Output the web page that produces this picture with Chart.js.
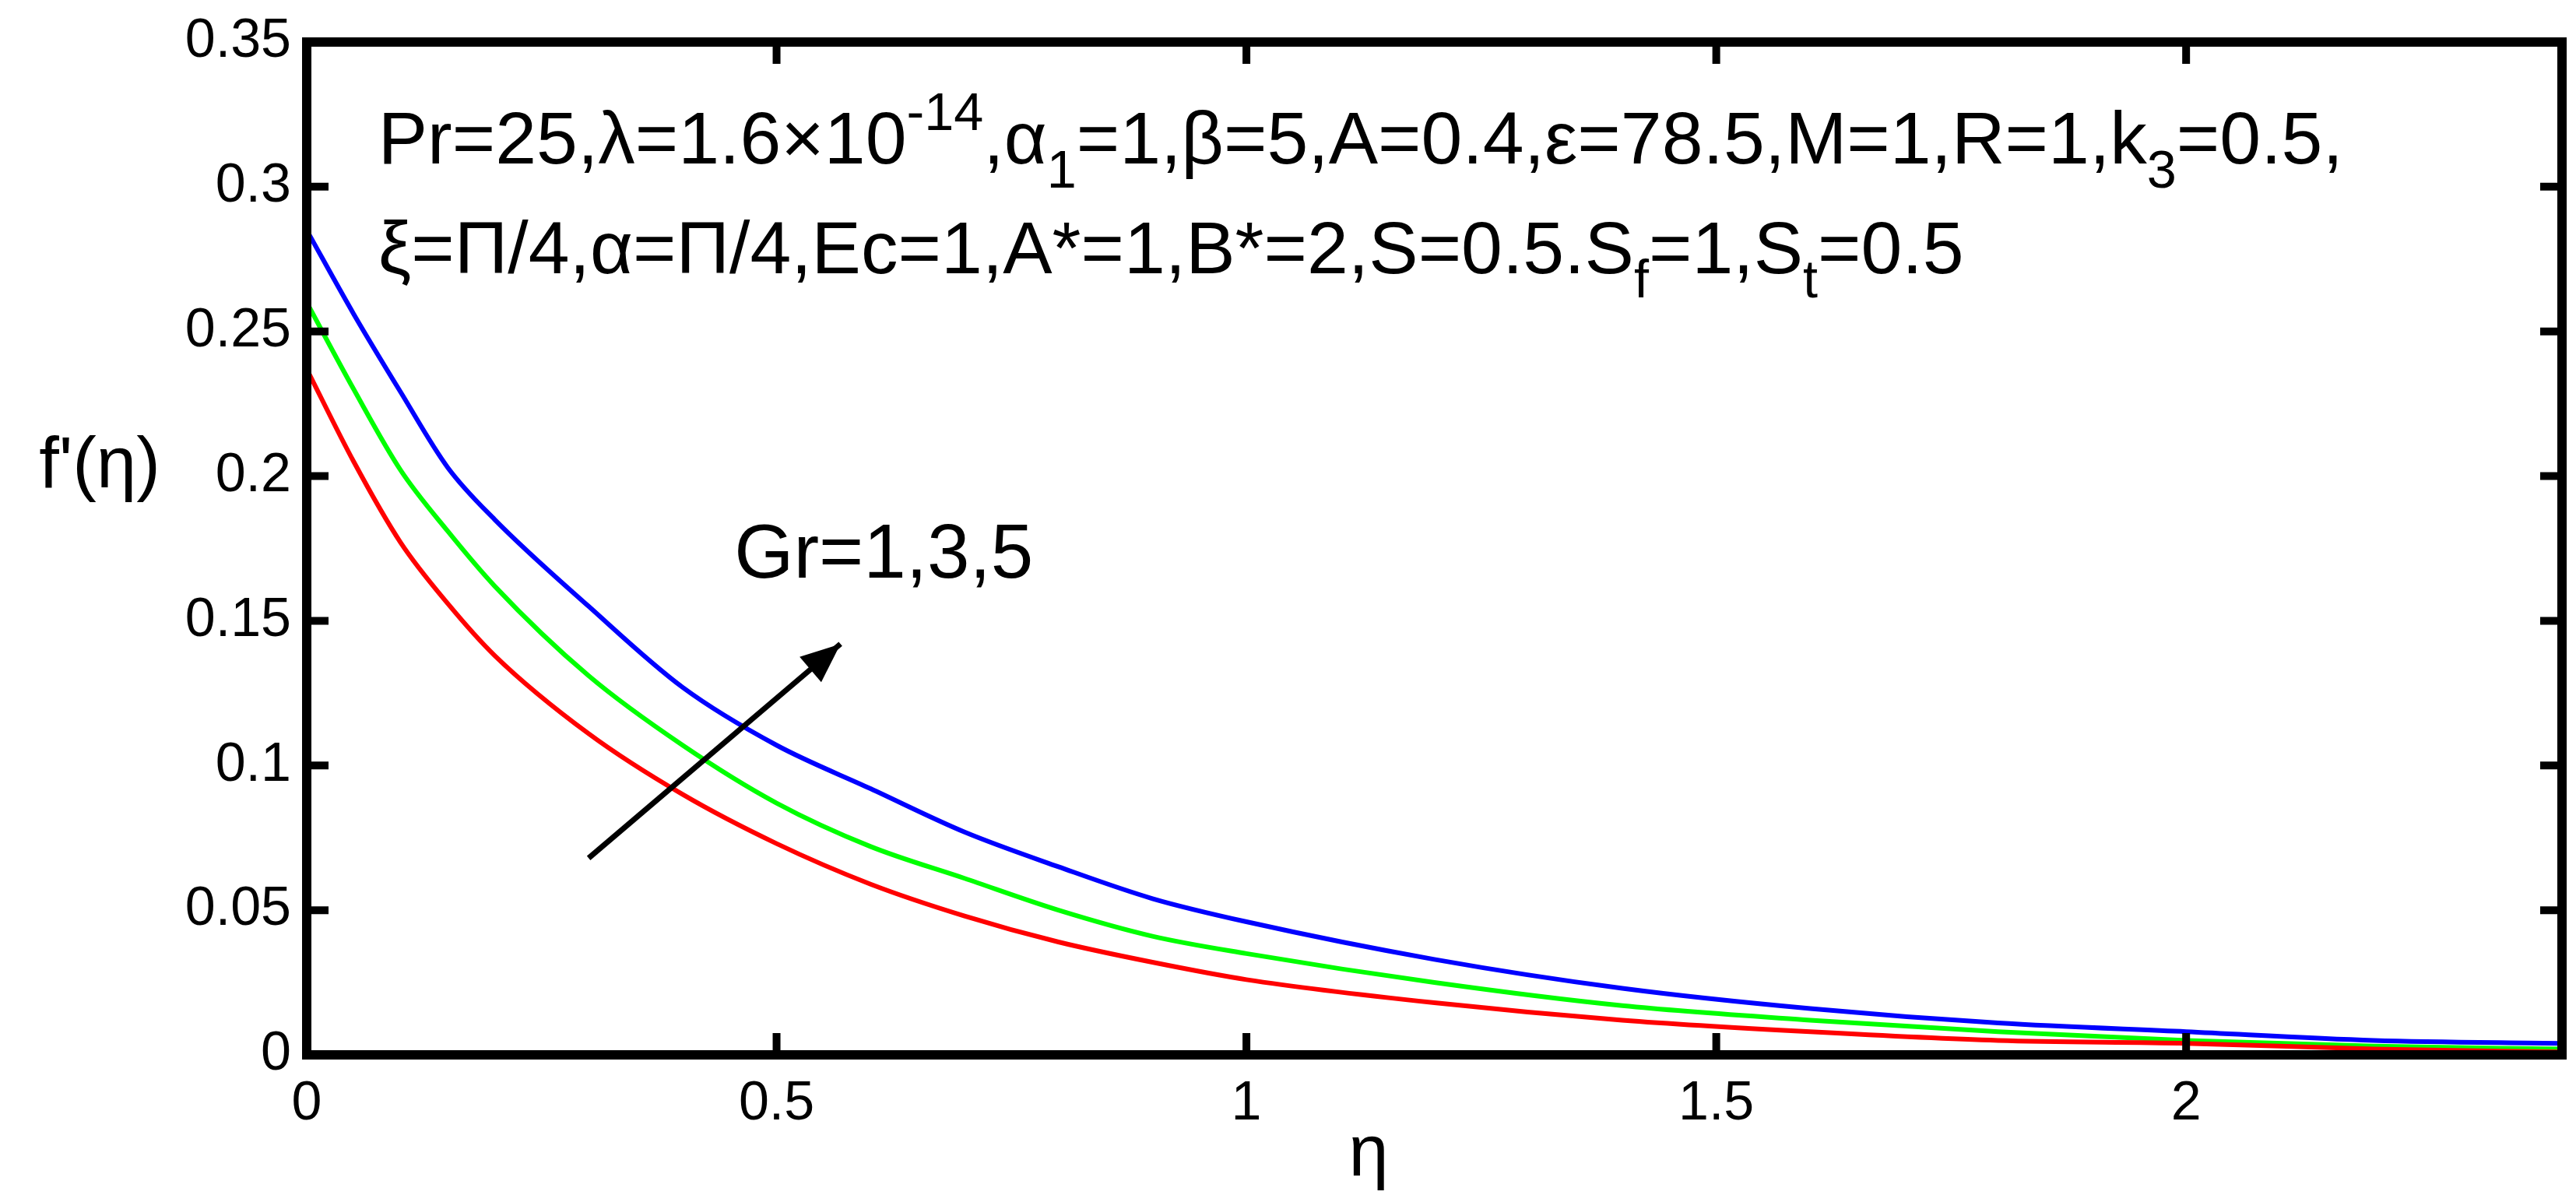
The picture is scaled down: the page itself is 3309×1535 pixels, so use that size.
<!DOCTYPE html>
<html><head><meta charset="utf-8">
<script src="https://cdn.jsdelivr.net/npm/chart.js@4/dist/chart.umd.min.js"></script>
<style>html,body{margin:0;padding:0;background:#fff}#w{width:3309px;height:1535px}</style>
</head><body><div id="w"><canvas id="c"></canvas></div>
<script>
const eta = [0,0.05,0.1,0.15,0.2,0.3,0.4,0.5,0.6,0.7,0.8,0.9,1.0,1.2,1.4,1.6,1.8,2.0,2.2,2.4];
const gr1 = [0.237,0.205,0.177,0.156,0.138,0.111,0.090,0.073,0.059,0.048,0.039,0.032,0.026,0.018,0.012,0.008,0.005,0.004,0.002,0.001];
const gr3 = [0.260,0.230,0.202,0.181,0.162,0.131,0.107,0.087,0.072,0.061,0.050,0.041,0.035,0.025,0.017,0.012,0.008,0.005,0.003,0.002];
const gr5 = [0.285,0.256,0.229,0.203,0.185,0.155,0.127,0.107,0.092,0.077,0.065,0.054,0.046,0.033,0.023,0.016,0.011,0.008,0.005,0.004];
const xTicks = [0,0.5,1,1.5,2];
const yTicks = [0,0.05,0.1,0.15,0.2,0.25,0.3,0.35];
const FONT = '"Liberation Sans Narrow","Arial Narrow","Liberation Sans",sans-serif';
const pts = a => a.map((v,i)=>({x:eta[i],y:v}));
const line1 = [["Pr=25,λ=1.6×10",0],["-14",1],[",α",0],["1",-1],["=1,β=5,A=0.4,ε=78.5,M=1,R=1,k",0],["3",-1],["=0.5,",0]];
const line2 = [["ξ=Π/4,α=Π/4,Ec=1,A*=1,B*=2,S=0.5.S",0],["f",-1],["=1,S",0],["t",-1],["=0.5",0]];
function drawRich(ctx,segs,x,y,fs){
  let cx=x;
  for(const [t,m] of segs){
    const s = m===0?fs:fs*0.72;
    ctx.font = s+'px '+FONT;
    const dy = m===1?-fs*0.45:(m===-1?fs*0.32:0);
    ctx.fillText(t,cx,y+dy);
    cx+=ctx.measureText(t).width;
  }
}
const deco = {id:'deco',afterDraw(ch){
  const {ctx,chartArea:a,scales:{x,y}}=ch;
  ctx.save();
  ctx.strokeStyle='#000';ctx.lineWidth=12;
  ctx.strokeRect(a.left,a.top,a.right-a.left,a.bottom-a.top);
  ctx.lineWidth=10;
  for(const t of xTicks){const px=x.getPixelForValue(t);
    ctx.beginPath();ctx.moveTo(px,a.bottom);ctx.lineTo(px,a.bottom-28);ctx.moveTo(px,a.top);ctx.lineTo(px,a.top+28);ctx.stroke();}
  for(const t of yTicks){const py=y.getPixelForValue(t);
    ctx.beginPath();ctx.moveTo(a.left,py);ctx.lineTo(a.left+28,py);ctx.moveTo(a.right,py);ctx.lineTo(a.right-28,py);ctx.stroke();}
  ctx.fillStyle='#000';ctx.textBaseline='alphabetic';ctx.textAlign='left';
  drawRich(ctx,line1,x.getPixelForValue(0.076),y.getPixelForValue(0.308),95);
  drawRich(ctx,line2,x.getPixelForValue(0.076),y.getPixelForValue(0.270),95);
  ctx.font='98px '+FONT;
  ctx.fillText('Gr=1,3,5',x.getPixelForValue(0.455),y.getPixelForValue(0.165));
  const x0=x.getPixelForValue(0.30),y0=y.getPixelForValue(0.068),x1=x.getPixelForValue(0.568),y1=y.getPixelForValue(0.142);
  ctx.lineWidth=7;ctx.beginPath();ctx.moveTo(x0,y0);ctx.lineTo(x1,y1);ctx.stroke();
  const ang=Math.atan2(y1-y0,x1-x0),L=55,W=0.4;
  ctx.beginPath();ctx.moveTo(x1,y1);ctx.lineTo(x1-L*Math.cos(ang-W),y1-L*Math.sin(ang-W));ctx.lineTo(x1-L*Math.cos(ang+W),y1-L*Math.sin(ang+W));ctx.closePath();ctx.fill();
  ctx.font='92px '+FONT;ctx.textAlign='center';
  ctx.fillText('f\'(η)',128,y.getPixelForValue(0.196));
  ctx.fillText('η',x.getPixelForValue(1.13),1510);
  ctx.restore();
}};
new Chart(document.getElementById('c'),{
  type:'line',
  data:{datasets:[
    {data:pts(gr1),borderColor:'#ff0000',borderWidth:6,pointRadius:0,cubicInterpolationMode:'monotone'},
    {data:pts(gr3),borderColor:'#00ff00',borderWidth:6,pointRadius:0,cubicInterpolationMode:'monotone'},
    {data:pts(gr5),borderColor:'#0000ff',borderWidth:6,pointRadius:0,cubicInterpolationMode:'monotone'}]},
  options:{responsive:true,maintainAspectRatio:false,animation:false,devicePixelRatio:1,
    layout:{padding:{top:47,right:18,left:0,bottom:0}},
    plugins:{legend:{display:false},tooltip:{enabled:false}},
    scales:{
      x:{type:'linear',min:0,max:2.4,grid:{display:false},border:{display:false},
        afterFit(s){s.height=180;},
        afterBuildTicks(s){s.ticks=xTicks.map(v=>({value:v}));},
        ticks:{autoSkip:false,maxRotation:0,color:'#000',font:{size:70,family:FONT},padding:14,callback:v=>String(v)}},
      y:{min:0,max:0.35,grid:{display:false},border:{display:false},
        afterFit(s){s.width=394;},
        afterBuildTicks(s){s.ticks=yTicks.map(v=>({value:v}));},
        ticks:{autoSkip:false,color:'#000',font:{size:70,family:FONT},padding:12,callback:v=>String(+v.toFixed(2))}}
    }},
  plugins:[deco]
});
</script></body></html>
